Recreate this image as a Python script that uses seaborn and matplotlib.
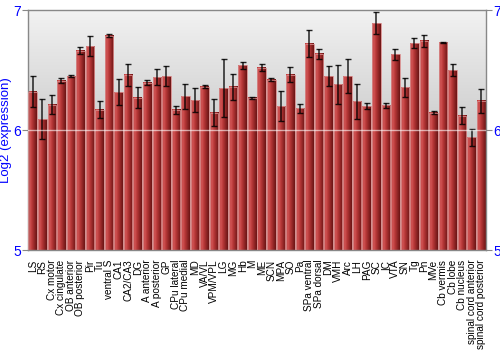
import numpy as np
import pandas as pd
import matplotlib
matplotlib.use("Agg")
import matplotlib.pyplot as plt
from matplotlib.colors import LinearSegmentedColormap
import seaborn as sns

regions = ["LS", "RS", "Cx motor", "Cx cingulate", "OB anterior", "OB posterior", "Pir", "Tu",
           "ventral S", "CA1", "CA2/CA3", "DG", "A anterior", "A posterior", "GP", "CPu lateral",
           "CPu medial", "MD", "VA/VL", "VPM/VPL", "LG", "MG", "Hb", "M", "ME", "SCN", "MPA", "SO",
           "Pa", "SPa ventral", "SPa dorsal", "DM", "VMH", "Arc", "LH", "PAG", "SC", "IC", "VTA",
           "SN", "Tg", "Pn", "MVe", "Cb vermis", "Cb lobe", "Cb nucleus", "spinal cord anterior",
           "spinal cord posterior"]
expression = [6.32, 6.09, 6.21, 6.41, 6.45, 6.66, 6.70, 6.17,
              6.785, 6.315, 6.46, 6.27, 6.395, 6.44, 6.45, 6.17,
              6.28, 6.25, 6.36, 6.145, 6.35, 6.36, 6.54, 6.27, 6.52, 6.42, 6.20, 6.46,
              6.18, 6.72, 6.635, 6.45, 6.38, 6.45, 6.24, 6.20, 6.89, 6.205, 6.63,
              6.355, 6.725, 6.745, 6.145, 6.73, 6.50, 6.12, 5.94,
              6.245]
error = [0.13, 0.165, 0.08, 0.02, 0.01, 0.028, 0.083, 0.07,
         0.012, 0.11, 0.094, 0.09, 0.02, 0.065, 0.08, 0.033,
         0.105, 0.10, 0.014, 0.11, 0.24, 0.107, 0.03, 0.008, 0.03, 0.015, 0.127, 0.062,
         0.036, 0.11, 0.04, 0.083, 0.16, 0.145, 0.145, 0.026, 0.094, 0.02, 0.046,
         0.077, 0.04, 0.05, 0.015, 0.004, 0.047, 0.072, 0.072,
         0.10]
y_ticks = [5, 6, 7]

df = pd.DataFrame({"region": regions, "expression": expression})

sns.set_theme(style="white")
plt.rcParams["font.family"] = ["Liberation Sans", "DejaVu Sans"]

fig = plt.figure(figsize=(5, 3.5), dpi=100)
ax = fig.add_axes([28 / 500, 1 - 250 / 350, (486 - 28) / 500, 240 / 350])

sns.barplot(data=df, x="region", y="expression", color="#b03030", width=0.9,
            errorbar=None, ax=ax, zorder=2)

ymin, ymax = y_ticks[0], y_ticks[-1]
ax.set_ylim(ymin, ymax)
ax.set_xlim(-0.5, len(regions) - 0.5)

# background gradient (light at top, darker toward bottom)
bg = np.linspace(0, 1, 256).reshape(-1, 1)
bg_cmap = LinearSegmentedColormap.from_list("bg", ["#f2f2f2", "#a8a8a8"])
ax.imshow(bg, cmap=bg_cmap, aspect="auto", extent=[0, 1, 0, 1], origin="upper",
          transform=ax.transAxes, zorder=0, interpolation="bicubic")

# bar gradients
bar_cmap = LinearSegmentedColormap.from_list(
    "bar", [(0.0, "#b83a3a"), (0.2, "#d25656"), (0.45, "#b83838"), (1.0, "#6a1414")])
grad = np.linspace(0, 1, 64).reshape(1, -1)
for p in ax.patches:
    x0 = p.get_x()
    w = p.get_width()
    h = p.get_height()
    im = ax.imshow(grad, cmap=bar_cmap, aspect="auto",
                   extent=[x0, x0 + w, ymin, h], zorder=2, interpolation="bilinear")
    im.set_clip_path(p)
    im.set_clip_box(ax.bbox)
    p.set_facecolor("none")
    p.set_edgecolor("#d88a8a")
    p.set_linewidth(0.6)
    p.set_zorder(3)

ax.set_xlim(-0.5, len(regions) - 0.5)
ax.set_ylim(ymin, ymax)

ax.errorbar(np.arange(len(regions)), expression, yerr=error, fmt="none",
            ecolor="black", elinewidth=1.1, capsize=2, capthick=1.0, alpha=0.85, zorder=4)

ax.axhline(6, color="white", lw=1.0, alpha=0.6, zorder=5)

for s in ax.spines.values():
    s.set_color("#888888")
    s.set_linewidth(1.0)

ax.set_yticks(y_ticks)
ax.set_yticklabels([str(t) for t in y_ticks])
ax.tick_params(axis="y", which="both", left=True, right=True, labelleft=True, labelright=True,
               length=4, width=0.8, color="#888888", labelcolor="#0000ff", labelsize=10, pad=1)
ax.tick_params(axis="x", bottom=False, labelsize=7.2, pad=1, labelcolor="black")
plt.setp(ax.get_xticklabels(), rotation=90)
ax.set_xlabel("")
ax.set_ylabel("Log2 (expression)", color="#0000ff", fontsize=9.5)
ax.yaxis.set_label_coords(-0.034, 0.5)

fig.savefig("out.png", dpi=100)
